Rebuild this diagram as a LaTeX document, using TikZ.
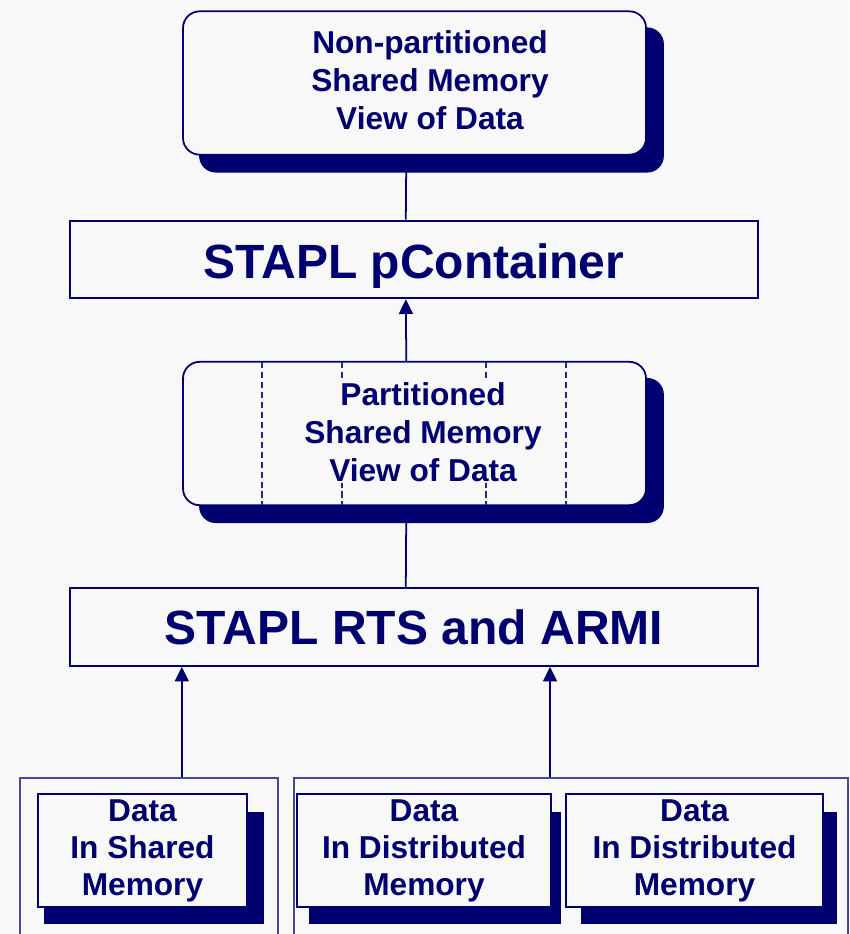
\documentclass[tikz,border=0pt]{standalone}
\usepackage{fontspec}
\setmainfont{Liberation Sans}
\usetikzlibrary{arrows.meta,backgrounds}
\definecolor{stnavy}{RGB}{0,0,112}
\definecolor{stframe}{RGB}{72,72,150}
\definecolor{stbg}{RGB}{248,248,248}
\tikzset{
  layer/.style={draw=stnavy,line width=1.7pt,fill=stbg,text=stnavy,inner sep=0pt,
    minimum width=20.64cm,minimum height=2.33cm,font=\fontsize{41}{48}\selectfont\bfseries},
  view/.style={draw=stnavy,line width=1.5pt,fill=stbg,rounded corners=0.5cm,inner sep=0pt,
    minimum width=13.89cm,minimum height=4.3cm},
  viewtxt/.style={text=stnavy,align=center,inner sep=1pt,font=\fontsize{27}{32.4}\selectfont\bfseries},
  store/.style={draw=stnavy,line width=1.7pt,fill=stbg,text=stnavy,inner sep=0pt,align=center,
    minimum height=3.39cm,font=\fontsize{27}{31.6}\selectfont\bfseries},
  group/.style={draw=stframe,line width=1pt,inner sep=0pt,minimum height=5.46cm},
  part/.style={draw=stnavy!85,line width=0.9pt,dash pattern=on 5.5pt off 3pt},
  up/.style={draw=stnavy,line width=1.5pt,-{Triangle[length=12.5pt,width=12pt]}},
}
\begin{document}
\begin{tikzpicture}[x=0.03cm,y=-0.03cm]
  \useasboundingbox (0,0) rectangle (849,934);

  % блоки
  \node[view] (full) at (414.5,83) {};
  \node[viewtxt] (fulltxt) at (430,80) {Non-partitioned\\Shared Memory\\ View of Data};
  \node[layer,text height=33pt,text depth=0pt] (pcont) at (414,259.5) {STAPL pContainer};
  \node[view] (parts) at (414.5,433.5) {};
  \draw[part] (262,362) -- (262,505);
  \draw[part] (342,362) -- (342,505);
  \draw[part] (486,362) -- (486,505);
  \draw[part] (566,362) -- (566,505);
  \node[viewtxt,fill=stbg] (partstxt) at (423,432) {Partitioned\\Shared Memory\\ View of Data};
  \node[layer] (rts) at (414,627) {STAPL RTS and ARMI};

  % данные
  \node[group,minimum width=7.74cm] (shgrp) at (149,869) {};
  \node[group,minimum width=16.62cm] (dsgrp) at (571,869) {};
  \node[store,minimum width=6.27cm] (shmem) at (142.5,850.5) {Data\\In Shared\\ Memory};
  \node[store,minimum width=7.62cm] (dsmem1) at (424,850.5) {Data\\In Distributed\\ Memory};
  \node[store,minimum width=7.71cm] (dsmem2) at (694.5,850.5) {Data\\In Distributed\\ Memory};

  % тени
  \begin{scope}[on background layer]
    \fill[stbg] (0,0) rectangle (849,934);
    \fill[stnavy,rounded corners=0.5cm] ([xshift=14.5pt,yshift=-14.5pt]full.north west) rectangle ([xshift=14.5pt,yshift=-14.5pt]full.south east);
    \fill[stnavy,rounded corners=0.5cm] ([xshift=14.5pt,yshift=-14.5pt]parts.north west) rectangle ([xshift=14.5pt,yshift=-14.5pt]parts.south east);
    \fill[stnavy] ([xshift=6pt,yshift=-16pt]shmem.north west) rectangle ([xshift=13.7pt,yshift=-13.7pt]shmem.south east);
    \fill[stnavy] ([xshift=11pt,yshift=-16pt]dsmem1.north west) rectangle ([xshift=7.7pt,yshift=-13.7pt]dsmem1.south east);
    \fill[stnavy] ([xshift=13.7pt,yshift=-16pt]dsmem2.north west) rectangle ([xshift=11pt,yshift=-13.7pt]dsmem2.south east);
  \end{scope}

  % стрелки
  \draw[up] ([xshift=-7pt]pcont.north) -- ([xshift=-7pt]full.south);
  \draw[up] ([xshift=-7pt]parts.north) -- ([xshift=-7pt]pcont.south);
  \draw[up] ([xshift=-7pt]rts.north) -- ([xshift=-7pt]parts.south);
  \draw[up] ([xshift=28pt]shgrp.north) -- ([xshift=28pt]shgrp.north |- rts.south);
  \draw[up] ([xshift=-17.9pt]dsgrp.north) -- ([xshift=-17.9pt]dsgrp.north |- rts.south);
\end{tikzpicture}
\end{document}
